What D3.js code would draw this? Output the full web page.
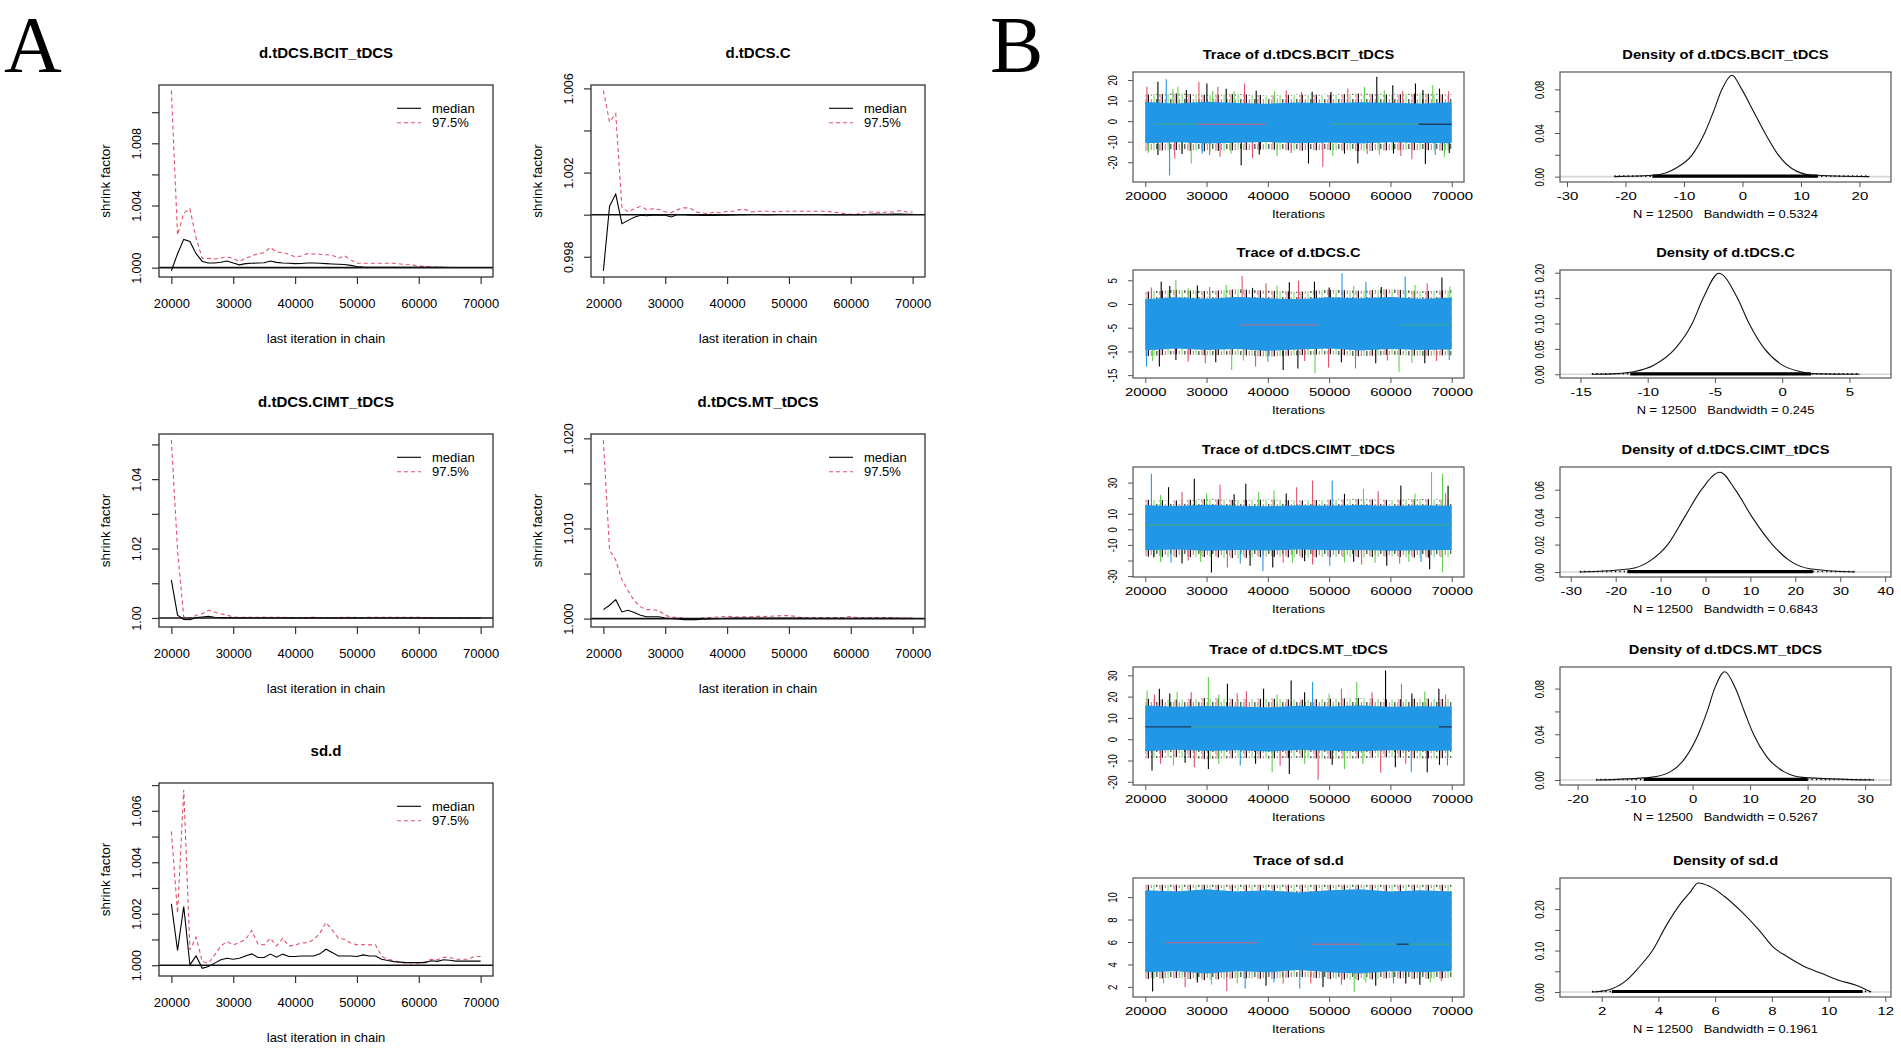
<!DOCTYPE html>
<html><head><meta charset="utf-8">
<script src="https://cdn.jsdelivr.net/npm/d3@7"></script>
<style>body{margin:0;background:#fff}svg{display:block}</style>
</head><body>
<svg id="c" width="1901" height="1048"></svg>
<script>
// ================= DATA: panel A (Gelman-Rubin shrink factor) =================
const gTitles = ["d.tDCS.BCIT_tDCS", "d.tDCS.C", "d.tDCS.CIMT_tDCS", "d.tDCS.MT_tDCS", "sd.d"];
const gIter = [20000,21000,22000,23000,24000,25000,26000,27000,28000,29000,
  30000,31000,32000,33000,34000,35000,36000,37000,38000,39000,
  40000,41000,42000,43000,44000,45000,46000,47000,48000,49000,
  50000,51000,52000,53000,54000,55000,56000,57000,58000,59000,
  60000,61000,62000,63000,64000,65000,66000,67000,68000,69000,70000];
const gXTicks = [20000, 30000, 40000, 50000, 60000, 70000];
const gLegend = ["median", "97.5%"];

const medBCIT = [0.9998,1.0009,1.00182,1.00168,1.0009,1.0004,1.0003,1.0003,1.00035,1.00043,
  1.0003,1.00018,1.00026,1.00028,1.0003,1.00032,1.00043,1.00034,1.0003,1.00028,
  1.00026,1.00027,1.0003,1.0003,1.00028,1.00026,1.00024,1.00022,1.0002,1.00015,
  1.00008,1.00004,1.00003,1.00003,1.00003,1.00003,1.00003,1.00002,1.00002,1.00002,
  1.00002,1.00003,1.00002,1.00002,1.00002,1.00001,1.00001,1.00001,1.00001,1.00001,1.00001];
const q975BCIT = [1.0114,1.0021,1.0035,1.0038,1.0019,1.0006,1.0006,1.00056,1.00062,1.0007,
  1.0006,1.0004,1.0006,1.00075,1.0009,1.00096,1.0013,1.001,1.00098,1.00085,
  1.0007,1.00075,1.0009,1.00088,1.00086,1.00083,1.0008,1.0006,1.00077,1.0005,
  1.00028,1.00028,1.00028,1.00028,1.00028,1.00028,1.00028,1.00024,1.0002,1.00018,
  1.0001,1.00008,1.00006,1.00003,1.00001,1.00001,1.00001,1.00001,1.00001,1.00001,1.00001];

const medC = [0.99733,1.0004,1.00098,0.99957,0.99973,0.99988,0.99997,0.99995,0.99997,0.99997,
  0.99997,0.99989,1.00001,1.0,0.99998,0.99997,0.99996,0.99996,0.99996,0.99997,
  0.99997,0.99999,1.0,1.0,1.00001,1.00001,1.0,1.0,1.00001,1.00001,
  1.00001,1.00001,1.00001,1.00001,1.00001,1.00001,1.0,1.00001,1.0,1.0,
  1.0,1.0,1.0,1.00002,1.00003,1.00002,1.00002,1.00003,1.00003,1.00002,1.00002];
const q975C = [1.0059,1.0044,1.0048,1.00036,1.00013,1.00028,1.0004,1.00024,1.00028,1.00025,
  1.00013,1.0001,1.00024,1.00033,1.00032,1.00013,1.00008,1.00005,1.00013,1.00008,
  1.00016,1.00016,1.00024,1.00024,1.00013,1.00016,1.00016,1.00016,1.00013,1.00016,
  1.00016,1.00016,1.00016,1.00016,1.00016,1.00016,1.00016,1.00013,1.0001,1.00005,
  1.00002,1.00002,1.00013,1.00013,1.00013,1.0001,1.00013,1.00013,1.0002,1.00013,1.00013];

const medCIMT = [1.0109,1.0008,0.9996,0.9995,1.0001,1.0003,1.0005,1.0002,1.0001,1.0001,
  1.00002,1.00001,1.00002,1.00001,1.00001,1.00002,1.00001,1.00001,1.00001,1.00002,
  1.00001,1.00001,1.00001,1.00002,1.00001,1.00001,1.00001,1.00001,1.00001,1.00002,
  1.00001,1.00001,1.00001,1.00001,1.00001,1.00001,1.00001,1.00001,1.00001,1.00001,
  1.00001,1.00001,1.00001,1.00001,1.00001,1.00001,1.00001,1.00001,1.00001,1.00001,1.00001];
const q975CIMT = [1.0513,1.0195,1.0003,0.9998,1.0008,1.00125,1.0022,1.0017,1.0012,1.0008,
  1.0003,1.0002,1.0002,1.0002,1.0002,1.0002,1.0002,1.0002,1.0002,1.0001,
  1.0001,1.0001,1.0001,1.0002,1.0001,1.0001,1.0001,1.0001,1.0002,1.0002,
  1.0001,1.0001,1.0002,1.0002,1.0002,1.0002,1.0002,1.0002,1.0002,1.0002,
  1.0002,1.0001,1.0,1.0,1.0,1.0,1.0,1.0,1.0,1.0,1.0];

const medMT = [1.001,1.00148,1.0021,1.00074,1.00093,1.00067,1.00037,1.0002,1.0002,1.0002,
  1.00007,1.00002,0.99995,0.99989,0.99992,0.99989,0.99993,0.99996,0.99998,1.00001,
  1.00004,1.00007,1.00007,1.00007,1.00007,1.00007,1.00007,1.00007,1.00007,1.00007,
  1.00007,1.00007,1.00007,1.00003,1.00003,1.00003,1.00003,1.00003,1.00003,1.00003,
  1.00003,1.00003,1.00003,1.00003,1.00003,1.00003,1.00003,1.00003,1.00003,1.00003,1.00003];
const q975MT = [1.0198,1.0076,1.0065,1.0043,1.0031,1.002,1.0013,1.001,1.001,1.0009,
  1.00037,1.00018,1.00012,1.00007,1.0,1.00002,1.00007,1.00011,1.00015,1.0002,
  1.00026,1.0002,1.00018,1.0002,1.00022,1.00026,1.00024,1.00026,1.0003,1.00033,
  1.00033,1.00026,1.00011,1.00011,1.00011,1.00011,1.00011,1.00011,1.00011,1.00011,
  1.00026,1.00011,1.00011,1.00011,1.00011,1.00011,1.00011,1.00011,1.00003,1.00003,1.00003];

const medSD = [1.00238,1.00057,1.00228,1.00001,1.00036,0.99988,0.99995,1.00008,1.00021,1.00027,
  1.00023,1.00027,1.00036,1.00044,1.0003,1.0003,1.00043,1.00031,1.00043,1.00034,
  1.00034,1.00036,1.00036,1.00036,1.00044,1.00062,1.00049,1.00036,1.00036,1.00036,
  1.00034,1.0004,1.00036,1.00036,1.00023,1.00018,1.00014,1.00012,1.0001,1.0001,
  1.0001,1.0001,1.00017,1.00015,1.00021,1.00019,1.00016,1.00016,1.00016,1.00016,1.00016];
const q975SD = [1.0052,1.00202,1.00682,1.0006,1.00109,1.00014,1.00008,1.0004,1.00075,1.00092,
  1.00079,1.00088,1.001,1.00135,1.00082,1.00079,1.00105,1.00075,1.00105,1.00075,
  1.00078,1.00086,1.00088,1.00099,1.00124,1.00166,1.00137,1.00105,1.00101,1.00086,
  1.00079,1.0008,1.00079,1.00079,1.00034,1.00023,1.00018,1.0001,1.00008,1.0001,
  1.00008,1.00013,1.00023,1.00021,1.00031,1.0003,1.00023,1.00023,1.00023,1.00034,1.00034];

const gYDomains = [[0.9994,1.01175],[0.99704,1.00616],[0.9974,1.053],[0.99907,1.02048],[0.99958,1.00708]];
const gYTicks = [[1.000,1.002,1.004,1.006,1.008,1.010],[0.998,1.000,1.002,1.004,1.006],
  [1.00,1.01,1.02,1.03,1.04,1.05],[1.000,1.005,1.010,1.015,1.020],
  [1.000,1.001,1.002,1.003,1.004,1.005,1.006,1.007]];
const gYLabels = [[1.000,1.004,1.008],[0.998,1.002,1.006],[1.00,1.02,1.04],[1.000,1.010,1.020],[1.000,1.002,1.004,1.006]];
const gYDigits = [3,3,2,3,3];

// ================= DATA: panel B (trace + density) =================
const bNames = ["d.tDCS.BCIT_tDCS", "d.tDCS.C", "d.tDCS.CIMT_tDCS", "d.tDCS.MT_tDCS", "sd.d"];
const bBandwidth = ["0.5324", "0.245", "0.6843", "0.5267", "0.1961"];
const bN = 12500;
const tIter = [20000,25000,30000,35000,40000,45000,50000,55000,60000,65000,70000];
const tXTicks = [20000,30000,40000,50000,60000,70000];
const tCenter = [-1.7, -4.5, 2.5, 5.8, 6.0];

// blue chain band (upper / lower edge) and dense envelope of all chains, read at tIter
const blueHiBCIT = [9.3,8.6,9.4,8.8,8.5,9.1,8.7,9.2,9.0,8.6,9.2];
const blueLoBCIT = [-10.8,-10.3,-10.9,-10.5,-10.2,-10.8,-10.4,-10.9,-10.3,-10.6,-10.8];
const outHiBCIT = [13.0,13.4,12.8,13.2,12.6,13.0,12.8,13.4,13.0,13.5,13.0];
const outLoBCIT = [-14.5,-14.0,-14.6,-14.2,-13.8,-14.4,-14.0,-14.6,-14.2,-14.0,-14.4];
const spikesBCIT = [[20270,16.7,1],[22065,19.1,0],[23424,20.4,3],[24500,15.5,2],[25326,16.7,2],[26700,15.2,0],
  [28750,19.1,1],[30055,18.3,0],[31000,14.8,2],[31850,16.7,1],[33200,15.8,0],[34500,14.5,2],[36197,18.3,1],
  [38100,14.8,0],[41100,14.5,2],[43000,15.0,1],[45500,14.2,1],[47230,14.3,0],[50300,14.2,0],[53045,15.9,1],
  [55760,16.7,2],[57773,21.6,0],[59000,15.0,2],[60380,17.5,0],[62000,14.8,1],[64080,18.3,0],[65300,15.2,0],
  [66900,17.5,2],[68000,15.8,0],[69500,14.5,1],
  [20500,-15.5,2],[22065,-16.5,0],[23970,-26.3,3],[24800,-18.2,1],[26000,-16.0,0],[27500,-20.6,2],
  [29300,-15.8,3],[30500,-16.5,1],[32200,-17.3,1],[34000,-15.8,2],[35650,-21.4,0],[37500,-18.0,1],
  [38600,-16.2,0],[41500,-17.0,2],[43800,-15.5,1],[46630,-20.6,0],[48970,-22.2,1],[50600,-17.0,2],
  [52500,-15.8,0],[54680,-20.6,0],[56200,-16.0,1],[58200,-16.5,2],[60500,-15.8,0],[61700,-17.0,1],
  [63500,-18.5,1],[65700,-20.9,0],[67300,-16.5,3],[68800,-17.5,2],[69600,-15.5,0]];
const midBCIT = [[21400,28500,-1.5,0],[28500,39700,-1.5,1],[50500,64600,-1.5,0],[64600,70000,-1.5,2]];

const blueHiC = [1.0,1.4,1.1,1.5,1.2,1.0,1.4,1.2,1.5,1.1,1.3];
const blueLoC = [-9.8,-9.4,-9.7,-9.5,-9.9,-9.6,-9.4,-9.8,-9.5,-9.7,-9.6];
const outHiC = [2.6,3.0,2.7,3.1,2.8,2.6,3.0,2.8,3.1,2.7,2.9];
const outLoC = [-11.0,-10.6,-10.8,-10.7,-11.1,-10.8,-10.6,-11.0,-10.7,-10.9,-10.8];
const spikesC = [[22600,4.7,0],[25000,5.1,2],[28500,3.9,0],[33200,4.0,2],[35800,5.9,1],[39700,4.4,1],
  [43500,4.6,0],[45000,4.9,1],[47600,4.7,0],[52100,6.5,3],[56000,4.7,3],[62400,5.8,3],[66000,4.4,1],
  [68400,5.6,0],[69700,3.7,2],[21000,3.5,1],[24000,3.8,0],[27000,3.3,2],[30500,3.6,1],[37500,3.4,0],
  [41500,3.9,2],[50000,3.5,0],[54000,3.8,2],[58500,3.6,0],[64000,4.0,2],
  [20200,-13.2,3],[22300,-13.2,0],[27000,-12.2,1],[29800,-12.5,1],[34100,-13.9,2],[38000,-13.2,1],
  [42500,-13.9,0],[44900,-13.6,0],[47700,-14.6,2],[49900,-13.4,1],[54300,-13.6,3],[57600,-12.5,0],
  [61400,-14.3,2],[65600,-12.5,0],[69600,-11.8,3],[21200,-12,2],[25000,-11.8,0],[31500,-12.3,0],
  [36000,-11.9,2],[40000,-12.2,3],[46000,-12.0,1],[52000,-12.3,0],[59500,-11.9,1],[63500,-12.4,2],[67500,-12.0,1]];
const midC = [[35500,48200,-4.4,1],[61800,70000,-4.4,0]];

const blueHiCIMT = [15.5,15.0,15.8,15.2,14.8,15.5,15.2,15.6,15.0,15.4,15.2];
const blueLoCIMT = [-13.5,-13.0,-13.8,-13.2,-13.6,-13.0,-13.5,-13.2,-13.8,-13.4,-13.2];
const outHiCIMT = [19.0,18.5,19.5,18.8,19.2,18.5,19.0,19.4,18.8,19.5,19.0];
const outLoCIMT = [-17.5,-18.0,-17.8,-18.5,-17.6,-18.2,-17.8,-18.0,-17.5,-18.3,-17.8];
const spikesCIMT = [[21000,35.7,3],[23800,27,0],[28000,32.5,0],[32200,28.6,1],[36400,29.2,0],[41000,25,2],
  [44700,27,1],[47300,31.4,1],[50500,31.4,3],[55600,26,2],[61700,28.2,0],[66700,36.8,2],[68500,35.7,2],
  [69400,28,0],[22500,22,2],[26000,24,1],[30000,23,2],[34500,22.5,0],[38500,24,2],[43000,23,0],
  [52500,22.8,0],[58000,24.5,1],[64000,23,2],[69000,23,1],
  [21400,-18,0],[24200,-21.3,3],[27000,-20,1],[30800,-27.7,0],[33400,-24.5,1],[37100,-23.4,0],
  [39200,-26.7,3],[40800,-24.5,0],[44000,-21.5,2],[47300,-22.5,1],[50100,-23.4,3],[52500,-21.3,2],
  [55300,-22.5,1],[59400,-23.4,0],[63000,-21.0,2],[66400,-25.6,0],[68500,-27.7,2],[22500,-21,2],
  [26000,-22,0],[29000,-21,2],[35500,-22,3],[42500,-21.5,1],[46000,-20.5,0],[54000,-20.8,0],
  [57500,-21.5,2],[61500,-22,1],[65000,-21,3]];
const midCIMT = [[20000,70000,2.8,0]];

const blueHiMT = [15.8,15.2,15.6,15.4,15.0,15.7,15.3,15.8,15.2,15.5,15.4];
const blueLoMT = [-5.6,-5.0,-5.5,-5.2,-5.8,-5.1,-5.4,-5.7,-5.2,-5.5,-5.3];
const outHiMT = [19.0,18.5,19.3,18.8,19.1,18.5,19.0,19.3,18.7,19.1,18.8];
const outLoMT = [-9.0,-8.5,-9.3,-8.8,-9.1,-8.7,-9.2,-8.9,-8.5,-9.1,-8.8];
const spikesMT = [[20300,22.9,2],[22300,23.7,0],[25200,22,2],[30300,29.2,2],[33400,26,0],[36500,22.5,1],
  [39300,23.7,0],[43800,27.6,0],[47300,26.8,3],[52000,23.7,1],[54500,26.8,2],[59200,32.3,0],[61800,26,1],
  [65600,22.4,2],[67900,23.7,0],[21500,21,1],[24000,21.5,0],[27500,22,1],[32000,21,2],[35000,21.5,1],
  [41500,21,2],[46000,22,0],[50000,21.5,2],[57000,22,1],[63500,21.5,0],[69000,21,1],
  [21100,-14.7,0],[24600,-12.4,2],[28000,-13.2,1],[30300,-14.0,0],[35500,-12.4,3],[40700,-15.5,2],
  [43500,-16.3,0],[48200,-19.0,1],[52500,-14.0,2],[58400,-15.8,1],[60800,-13.2,0],[63400,-15.5,3],
  [66000,-15.5,0],[69300,-12.4,3],[22500,-11.5,1],[26500,-11,0],[32000,-11.8,2],[38000,-11.5,0],
  [42000,-12.5,1],[46000,-11.5,2],[50500,-12,0],[55500,-11.8,2],[62500,-11.5,1],[68000,-12,0]];
const midMT = [[20000,27500,5.8,2],[27500,67900,5.8,0],[67900,70000,5.8,2]];

const blueHiSD = [10.6,10.5,10.7,10.5,10.6,10.4,10.6,10.7,10.5,10.6,10.5];
const blueLoSD = [3.3,3.4,3.2,3.4,3.3,3.5,3.3,3.2,3.4,3.3,3.4];
const outHiSD = [11.1,11.1,11.1,11.1,11.1,11.1,11.1,11.1,11.1,11.1,11.1];
const outLoSD = [2.7,2.8,2.6,2.8,2.7,2.9,2.7,2.6,2.8,2.7,2.8];
const spikesSD = [[21200,1.6,0],[26500,2.0,1],[30800,2.2,2],[33300,1.64,1],[36300,1.85,3],[39700,2.1,0],
  [42500,2.3,1],[45200,1.85,3],[49000,2.0,0],[52000,2.2,1],[54100,1.55,2],[57600,2.1,0],[60500,2.3,3],
  [64800,2.2,0],[68300,2.5,1],[23000,2.3,2],[28500,2.4,0],[35000,2.3,2],[41000,2.4,3],[47000,2.3,1],
  [56000,2.4,2],[62500,2.3,0],[66500,2.4,2]];
const midSD = [[23300,38400,5.94,1],[47000,55000,5.8,1],[55000,61000,5.8,0],[61000,63000,5.8,2],[63000,70000,5.8,0]];

const tYDomains = [[-29.6,23.9],[-15.6,7.17],[-30.6,40],[-21.5,33.9],[1.1,11.7]];
const tYTicks = [[-20,-10,0,10,20],[-15,-10,-5,0,5],[-30,-20,-10,0,10,20,30],[-20,-10,0,10,20,30],[2,4,6,8,10]];
const tYLabels = [[-20,-10,0,10,20],[-15,-10,-5,0,5],[-30,-10,0,10,30],[-20,-10,0,10,20,30],[2,4,6,8,10]];

// density curves (x, density)
const densXBCIT = [-21.9,-14.8,-11.4,-8.6,-6.46,-4.93,-3.51,-1.81,-0.11,1.87,3.85,6.12,8.38,11.78,21.7];
const densYBCIT = [0,0.0015,0.0077,0.02,0.04,0.06,0.08,0.0929,0.08,0.06,0.04,0.02,0.0077,0.0015,0];
const densXC = [-14.15,-12.29,-11.04,-9.55,-7.94,-6.69,-5.87,-4.70,-3.33,-2.46,-1.34,0.02,1.39,2.14,5.75];
const densYC = [0,0.0013,0.005,0.018,0.051,0.10,0.15,0.199,0.15,0.10,0.051,0.018,0.005,0.0013,0];
const densXCIMT = [-28,-16.7,-12.2,-8.42,-4.66,-0.9,3.23,6.62,10.38,14.89,18.65,23.2,33.3];
const densYCIMT = [0,0.0024,0.0085,0.02,0.04,0.06,0.0727,0.06,0.04,0.02,0.0085,0.0024,0];
const densXMT = [-16.8,-7.35,-3.82,-1.18,1.0,2.53,3.82,5.59,7.47,9.0,10.59,12.94,15.88,19.1,31.5];
const densYMT = [0,0.0023,0.0073,0.02,0.04,0.06,0.08,0.0948,0.08,0.06,0.04,0.02,0.0073,0.0023,0];
const densXSD = [1.66,2.26,2.87,3.28,3.79,4.29,4.8,5.1,5.4,5.8,6.32,6.93,7.54,8.04,8.55,9.16,9.77,10.38,10.99,11.5];
const densYSD = [0,0.0057,0.028,0.057,0.10,0.162,0.215,0.239,0.263,0.255,0.231,0.194,0.15,0.109,0.085,0.061,0.0445,0.028,0.016,0];
// rug of observations: dense core and full range
const rugCore = [[-15.4,12.9],[-11.3,2.14],[-17.4,23.9],[-8.5,20],[2.36,11.2]];
const rugRange = [[-21.9,21.7],[-14.15,5.75],[-28,33.3],[-16.8,31.5],[1.66,11.5]];

const dXDomains = [[-31.2,25.4],[-16.52,8.09],[-32.4,41.3],[-23.06,34.5],[0.53,12.2]];
const dXTicks = [[-30,-20,-10,0,10,20],[-15,-10,-5,0,5],[-30,-20,-10,0,10,20,30,40],[-20,-10,0,10,20,30],[2,4,6,8,10,12]];
const dYDomains = [[-0.0049,0.0959],[-0.0073,0.2053],[-0.0036,0.0765],[-0.0044,0.0989],[-0.012,0.275]];
const dYTicks = [[0,0.02,0.04,0.06,0.08],[0,0.05,0.10,0.15,0.20],[0,0.02,0.04,0.06],[0,0.02,0.04,0.06,0.08],[0,0.05,0.10,0.15,0.20,0.25]];
const dYLabels = [[0,0.04,0.08],[0,0.05,0.10,0.15,0.20],[0,0.02,0.04,0.06],[0,0.04,0.08],[0,0.10,0.20]];

// ================= DRAWING =================
const svg = d3.select("#c");
const FONT = '"Liberation Sans", Arial, Helvetica, sans-serif';
const SERIF = '"Liberation Serif", "Times New Roman", serif';
const CH = ["#000000", "#DF536B", "#61D04F", "#2297E6"];
const MIDCOL = ["#3aa59b", "#a0739a", "#1f3f66"];
const RED = "#DF536B";

const aCols = [[159, 493], [591, 925]];
const aRows = [[85, 277], [434, 627], [783, 976]];
const bCols = [[1133, 1464], [1560, 1891]];
const bRows = [[72, 182], [270, 378], [467, 577], [667, 785], [878, 997]];

const defs = svg.append("defs");
const pat = defs.append("pattern").attr("id", "fringe").attr("patternUnits", "userSpaceOnUse")
  .attr("width", 14).attr("height", 9);
pat.append("rect").attr("width", 14).attr("height", 9).attr("fill", "#ffffff");
[[0, 0, 9], [2.8, 1, 6], [5.6, 2, 9], [8.4, 0, 5], [11.2, 2, 7], [12.6, 1, 9]].forEach(([px, c, h]) =>
  pat.append("rect").attr("x", px).attr("y", 0).attr("width", 0.9).attr("height", h).attr("fill", CH[c]));

function txt(g, x, y, s, o = {}) {
  return g.append("text")
    .attr("transform", `translate(${x},${y}) scale(${o.sx || 1},1) rotate(${o.rot || 0})`)
    .attr("text-anchor", o.anchor || "middle")
    .attr("dominant-baseline", o.baseline || "central")
    .attr("font-size", o.size || 13)
    .attr("font-weight", o.weight || "normal")
    .attr("font-family", o.family || FONT)
    .attr("fill", "#000")
    .style("white-space", "pre")
    .text(s);
}

function axis(g, scale, orient, pos, tickVals, labelVals, fmt, o) {
  const isB = orient === "bottom";
  const ax = (isB ? d3.axisBottom(scale) : d3.axisLeft(scale))
    .tickValues(tickVals).tickSize(o.tick).tickPadding(2)
    .tickFormat(v => labelVals.some(l => Math.abs(l - v) < 1e-9) ? fmt(v) : "");
  const ag = g.append("g").attr("transform", isB ? `translate(0,${pos})` : `translate(${pos},0)`).call(ax);
  ag.select(".domain").remove();
  ag.selectAll(".tick line").attr("stroke", o.color).attr("stroke-width", o.lw);
  const t = ag.selectAll(".tick text").attr("font-family", FONT).attr("font-size", o.size)
    .attr("fill", "#000").attr("dy", null).attr("dominant-baseline", "central").attr("text-anchor", "middle");
  if (isB) t.attr("x", 0).attr("y", o.off).attr("transform", `scale(${o.sx},1)`);
  else t.attr("x", 0).attr("y", -o.off / o.sx).attr("transform", `scale(${o.sx},1) rotate(-90)`);
}

function clip(g, id, x0, y0, x1, y1) {
  g.append("clipPath").attr("id", id).append("rect")
    .attr("x", x0).attr("y", y0).attr("width", x1 - x0).attr("height", y1 - y0);
  return g.append("g").attr("clip-path", `url(#${id})`);
}

// panel letters
txt(svg, 4, 72, "A", {size: 80, anchor: "start", family: SERIF, baseline: "alphabetic"});
txt(svg, 990, 72, "B", {size: 80, anchor: "start", family: SERIF, baseline: "alphabetic"});

// ---------- Panel A ----------
const gSeries = [[medBCIT, q975BCIT], [medC, q975C], [medCIMT, q975CIMT], [medMT, q975MT], [medSD, q975SD]];
gTitles.forEach((title, i) => {
  const [x0, x1] = aCols[i % 2], [y0, y1] = aRows[Math.floor(i / 2)];
  const x = d3.scaleLinear().domain([18000, 72000]).range([x0, x1]);
  const y = d3.scaleLinear().domain(gYDomains[i]).range([y1, y0]);
  const g = svg.append("g");
  const pg = clip(g, "clA" + i, x0, y0, x1, y1);
  const line = d3.line().x(d => x(d[0])).y(d => y(d[1]));
  const pairs = arr => arr.map((v, k) => [gIter[k], v]).filter(d => d[0] !== undefined);
  const [med, q] = gSeries[i];
  pg.append("path").attr("d", line(pairs(q))).attr("fill", "none").attr("stroke", RED)
    .attr("stroke-width", 1.1).attr("stroke-dasharray", "4,3");
  pg.append("path").attr("d", line(pairs(med))).attr("fill", "none").attr("stroke", "#000").attr("stroke-width", 1.1);
  pg.append("line").attr("x1", x0).attr("x2", x1).attr("y1", y(1)).attr("y2", y(1))
    .attr("stroke", "#111").attr("stroke-width", 1.6);
  g.append("rect").attr("x", x0).attr("y", y0).attr("width", x1 - x0).attr("height", y1 - y0)
    .attr("fill", "none").attr("stroke", "#333").attr("stroke-width", 1.3);
  axis(g, x, "bottom", y1, gXTicks, gXTicks, v => String(v), {tick: 7, color: "#333", lw: 1.2, size: 13, off: 26, sx: 1});
  axis(g, y, "left", x0, gYTicks[i], gYLabels[i], v => v.toFixed(gYDigits[i]), {tick: 7, color: "#333", lw: 1.2, size: 12.5, off: 22, sx: 1});
  txt(g, (x0 + x1) / 2, y0 - 33, title, {size: 15, weight: "bold"});
  txt(g, (x0 + x1) / 2, y1 + 61, "last iteration in chain", {size: 13});
  txt(g, x0 - 54, (y0 + y1) / 2, "shrink factor", {size: 13.5, rot: -90});
  // legend
  const ly = [y0 + 23.3, y0 + 37.7];
  g.append("line").attr("x1", x1 - 96).attr("x2", x1 - 72).attr("y1", ly[0]).attr("y2", ly[0])
    .attr("stroke", "#000").attr("stroke-width", 1.1);
  g.append("line").attr("x1", x1 - 96).attr("x2", x1 - 72).attr("y1", ly[1]).attr("y2", ly[1])
    .attr("stroke", RED).attr("stroke-width", 1.1).attr("stroke-dasharray", "4,3");
  txt(g, x1 - 61, ly[0], gLegend[0], {size: 13, anchor: "start"});
  txt(g, x1 - 61, ly[1], gLegend[1], {size: 13, anchor: "start"});
});

// ---------- Panel B: traces ----------
const tData = [
  [blueHiBCIT, blueLoBCIT, outHiBCIT, outLoBCIT, spikesBCIT, midBCIT],
  [blueHiC, blueLoC, outHiC, outLoC, spikesC, midC],
  [blueHiCIMT, blueLoCIMT, outHiCIMT, outLoCIMT, spikesCIMT, midCIMT],
  [blueHiMT, blueLoMT, outHiMT, outLoMT, spikesMT, midMT],
  [blueHiSD, blueLoSD, outHiSD, outLoSD, spikesSD, midSD]];
const BSX = 1.3;
bNames.forEach((name, i) => {
  const [x0, x1] = bCols[0], [y0, y1] = bRows[i];
  const x = d3.scaleLinear().domain([18000, 72000]).range([x0, x1]);
  const y = d3.scaleLinear().domain(tYDomains[i]).range([y1, y0]);
  const [bh, bl, oh, ol, sp, mid] = tData[i];
  const g = svg.append("g");
  const pg = clip(g, "clT" + i, x0, y0, x1, y1);
  const area = (hi, lo) => d3.area().x((d, k) => x(tIter[k])).y0((d, k) => y(lo[k])).y1((d, k) => y(hi[k]))(tIter);
  pg.append("path").attr("d", area(oh, ol)).attr("fill", "url(#fringe)");
  pg.selectAll(".sp").data(sp).join("line")
    .attr("x1", d => x(d[0])).attr("x2", d => x(d[0]))
    .attr("y1", y(tCenter[i])).attr("y2", d => y(d[1]))
    .attr("stroke", d => CH[d[2]]).attr("stroke-width", 1.1);
  pg.append("path").attr("d", area(bh, bl)).attr("fill", CH[3]);
  pg.selectAll(".mid").data(mid).join("line")
    .attr("x1", d => x(d[0])).attr("x2", d => x(d[1])).attr("y1", d => y(d[2])).attr("y2", d => y(d[2]))
    .attr("stroke", d => MIDCOL[d[3]]).attr("stroke-width", 1.4);
  g.append("rect").attr("x", x0).attr("y", y0).attr("width", x1 - x0).attr("height", y1 - y0)
    .attr("fill", "none").attr("stroke", "#555").attr("stroke-width", 1.2);
  axis(g, x, "bottom", y1, tXTicks, tXTicks, v => String(v), {tick: 5, color: "#555", lw: 1, size: 11.5, off: 14.5, sx: BSX});
  axis(g, y, "left", x0, tYTicks[i], tYLabels[i], v => String(v), {tick: 5, color: "#555", lw: 1, size: 9.5, off: 20, sx: BSX});
  txt(g, (x0 + x1) / 2, y0 - 18, "Trace of " + name, {size: 13, weight: "bold", sx: 1.13});
  txt(g, (x0 + x1) / 2, y1 + 33, "Iterations", {size: 10, sx: 1.29});
});

// ---------- Panel B: densities ----------
const dData = [[densXBCIT, densYBCIT], [densXC, densYC], [densXCIMT, densYCIMT], [densXMT, densYMT], [densXSD, densYSD]];
bNames.forEach((name, i) => {
  const [x0, x1] = bCols[1], [y0, y1] = bRows[i];
  const x = d3.scaleLinear().domain(dXDomains[i]).range([x0, x1]);
  const y = d3.scaleLinear().domain(dYDomains[i]).range([y1, y0]);
  const g = svg.append("g");
  const pg = clip(g, "clD" + i, x0, y0, x1, y1);
  pg.append("line").attr("x1", x0).attr("x2", x1).attr("y1", y(0)).attr("y2", y(0))
    .attr("stroke", "#d6d6d6").attr("stroke-width", 1.6);
  pg.append("line").attr("x1", x(rugRange[i][0])).attr("x2", x(rugRange[i][1])).attr("y1", y(0) - 0.5).attr("y2", y(0) - 0.5)
    .attr("stroke", "#000").attr("stroke-width", 1.6).attr("stroke-dasharray", "1.2,3.2");
  pg.append("line").attr("x1", x(rugCore[i][0])).attr("x2", x(rugCore[i][1])).attr("y1", y(0) - 0.5).attr("y2", y(0) - 0.5)
    .attr("stroke", "#000").attr("stroke-width", 3.2);
  const [dx, dy] = dData[i];
  const line = d3.line().x(d => x(d[0])).y(d => y(d[1])).curve(d3.curveMonotoneX);
  pg.append("path").attr("d", line(dx.map((v, k) => [v, dy[k]]))).attr("fill", "none")
    .attr("stroke", "#111").attr("stroke-width", 1.1);
  g.append("rect").attr("x", x0).attr("y", y0).attr("width", x1 - x0).attr("height", y1 - y0)
    .attr("fill", "none").attr("stroke", "#555").attr("stroke-width", 1.2);
  axis(g, x, "bottom", y1, dXTicks[i], dXTicks[i], v => String(v), {tick: 5, color: "#555", lw: 1, size: 11.5, off: 14.5, sx: BSX});
  axis(g, y, "left", x0, dYTicks[i], dYLabels[i], v => v.toFixed(2), {tick: 5, color: "#555", lw: 1, size: 9.5, off: 20, sx: BSX});
  txt(g, (x0 + x1) / 2, y0 - 18, "Density of " + name, {size: 13, weight: "bold", sx: 1.13});
  txt(g, (x0 + x1) / 2, y1 + 33, "N = " + bN + "   Bandwidth = " + bBandwidth[i], {size: 10, sx: 1.29});
});
</script>
</body></html>
